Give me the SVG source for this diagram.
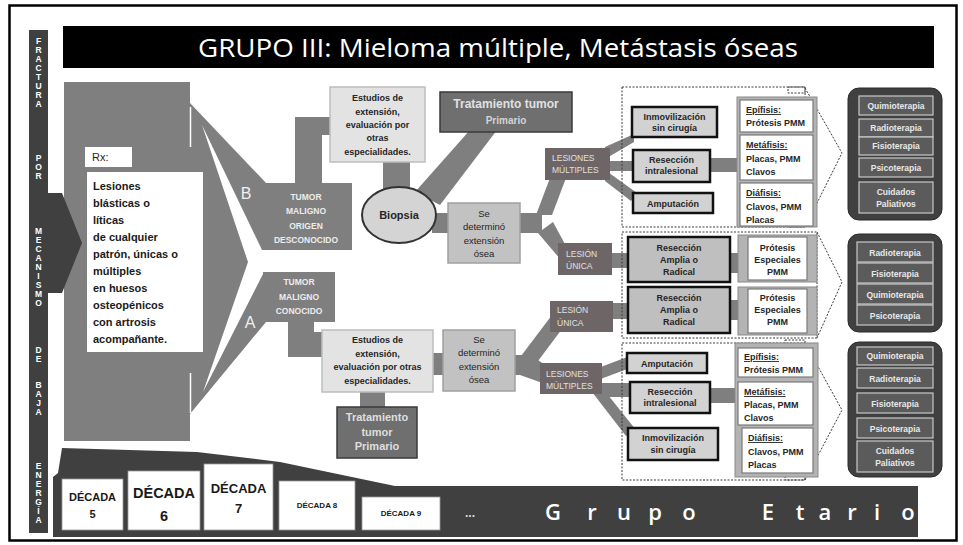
<svg xmlns="http://www.w3.org/2000/svg" width="963" height="545" viewBox="0 0 963 545">
<defs>
<style>
text{font-family:"Liberation Sans",Arial,sans-serif}
.os{font-family:"Open Sans","Liberation Sans",sans-serif}
.g{fill:#7f7f7f}
.dot{fill:none;stroke:#3a3a3a;stroke-width:1;stroke-dasharray:2 1.5}
.est{fill:#e3e3e3;stroke:#bdbdbd;stroke-width:1.5}
.sed{fill:#c2c2c2;stroke:#a0a0a0;stroke-width:1.5}
.les{fill:#6e6666}
.tr{fill:#6f6f6f;stroke:#3a3a3a;stroke-width:1.5}
.bx{fill:#d2d2d2;stroke:#111;stroke-width:2.5}
.bx2{fill:#bfbfbf;stroke:#111;stroke-width:2.5}
.frm{fill:#b3b3b3;stroke:#8a8a8a;stroke-width:1}
.wb{fill:#fff;stroke:#7a7a7a;stroke-width:1.2}
.th{fill:#404040;stroke:#2a2a2a;stroke-width:1}
.ti{fill:#5b5b5b;stroke:#c8c8c8;stroke-width:1.2}
.t9{font-size:9px;font-weight:bold;fill:#262626;text-anchor:middle}
.tr9{font-size:9.5px;fill:#262626;text-anchor:middle}
.tl{font-size:9px;font-weight:bold;fill:#262626}
.tw{font-size:8.5px;font-weight:bold;fill:#e8e8e8;text-anchor:middle}
.tls{font-size:8.5px;fill:#e0e0e0}
.tum{font-size:8.5px;font-weight:bold;fill:#ececec;text-anchor:middle}
.vl{font-size:8.5px;font-weight:bold;fill:#fff;text-anchor:middle}
.rx{font-size:11px;font-weight:bold;fill:#1a1a1a}
.dec{font-weight:bold;fill:#1a1a1a;text-anchor:middle}
</style>
</defs>
<rect width="963" height="545" fill="#fff"/>
<rect x="9.5" y="5.5" width="947" height="535" fill="none" stroke="#000" stroke-width="2.5"/>

<g id="title">
<rect x="63" y="26" width="871" height="42" fill="#000"/>
<text class="os" x="498" y="57" font-size="26" fill="#fff" text-anchor="middle" textLength="600" lengthAdjust="spacingAndGlyphs">GRUPO III: Mieloma múltiple, Metástasis óseas</text>
</g>

<g id="side-bar">
<rect x="29" y="30" width="19" height="503" fill="#404040"/>
<text class="vl" x="38.5 38.5 38.5 38.5 38.5 38.5 38.5 38.5" y="44 53 62 71 80 89 98 107">FRACTURA</text>
<text class="vl" x="38.5 38.5 38.5" y="161 170 179">POR</text>
<text class="vl" x="38.5 38.5 38.5 38.5 38.5 38.5 38.5 38.5 38.5" y="234 243 252 261 270 279 288 297 306">MECANISMO</text>
<text class="vl" x="38.5 38.5" y="353 362">DE</text>
<text class="vl" x="38.5 38.5 38.5 38.5" y="388 397 406 415">BAJA</text>
<text class="vl" x="38.5 38.5 38.5 38.5 38.5 38.5 38.5" y="469 478 487 496 505 514 523">ENERGÍA</text>
</g>

<g id="funnel">
<polygon class="g" points="64,82 190,82 190,103 266,183 266,322 190,414 190,441 64,441"/>
<polygon fill="#fff" points="202,125 262,250 270,250 270,272 264,272 203,392 248,262"/>
<line x1="190.5" y1="107" x2="190.5" y2="147" stroke="#fff" stroke-width="1.5"/>
<line x1="190.5" y1="373" x2="190.5" y2="413" stroke="#fff" stroke-width="1.5"/>
</g>

<g id="connectors">
<rect class="g" x="295" y="117" width="27" height="68"/>
<rect class="g" x="320" y="117" width="12" height="18"/>
<rect class="g" x="383" y="160" width="27" height="30"/>
<polygon class="g" points="470,130 497,130 440,205 415,192"/>
<rect class="g" x="432" y="213" width="18" height="20"/>
<rect class="g" x="518" y="213" width="24" height="20"/>
<polygon class="g" points="536,215 552,215 566,178 550,178"/>
<polygon class="g" points="538,233 553,222 566,246 561,260"/>
<rect class="g" x="610" y="253" width="20" height="15"/>
<polygon class="g" points="605,147 634,134 634,142 605,159"/>
<rect class="g" x="608" y="161" width="27" height="10"/>
<polygon class="g" points="605,170 605,181 631,201 637,193"/>
<rect class="g" x="708" y="158" width="31" height="14"/>
<rect class="g" x="728" y="253" width="12" height="20"/>
<rect class="g" x="610" y="303" width="20" height="16"/>
<rect class="g" x="728" y="300" width="12" height="20"/>
<rect class="g" x="288" y="320" width="26" height="37"/>
<rect class="g" x="312" y="332" width="12" height="25"/>
<rect class="g" x="360" y="390" width="25" height="19"/>
<rect class="g" x="431" y="353" width="14" height="22"/>
<rect class="g" x="513" y="355" width="22" height="20"/>
<polygon class="g" points="518,360 535,365 565,325 552,315"/>
<polygon class="g" points="520,355 535,358 548,367 548,385 520,375"/>
<polygon class="g" points="598,368 630,356 630,368 598,380"/>
<rect class="g" x="598" y="383" width="34" height="14"/>
<polygon class="g" points="592,392 604,390 636,430 626,436"/>
<rect class="g" x="708" y="388" width="29" height="15"/>
</g>

<g id="dotted-groups">
<rect class="dot" x="622" y="87" width="183" height="140"/>
<polyline class="dot" points="805,88 842,153 805,227"/>
<rect class="dot" x="788" y="87" width="17" height="6"/>
<rect class="dot" x="788" y="220" width="17" height="7"/>
<rect class="dot" x="622" y="232" width="195" height="106"/>
<polyline class="dot" points="817,232 842,282 817,338"/>
<rect class="dot" x="622" y="343" width="183" height="137"/>
<polyline class="dot" points="805,343 842,410 805,480"/>
<rect class="dot" x="785" y="340" width="20" height="5"/>
<rect class="dot" x="785" y="473" width="20" height="7"/>
</g>

<g id="arrow-in">
<polygon fill="#404040" points="48,193 62,193 82,243 62,293 48,293"/>
</g>

<g id="rx">
<rect x="85" y="147" width="47" height="20" fill="#fff"/>
<text x="92" y="161" font-size="11" fill="#262626">Rx:</text>
<rect x="87" y="172" width="116" height="180" fill="#fff"/>
<text class="rx" x="93" y="190">Lesiones</text>
<text class="rx" x="93" y="207">blásticas o</text>
<text class="rx" x="93" y="224">líticas</text>
<text class="rx" x="93" y="241">de cualquier</text>
<text class="rx" x="93" y="258">patrón, únicas o</text>
<text class="rx" x="93" y="275">múltiples</text>
<text class="rx" x="93" y="292">en huesos</text>
<text class="rx" x="93" y="309">osteopénicos</text>
<text class="rx" x="93" y="326">con artrosis</text>
<text class="rx" x="93" y="343">acompañante.</text>
</g>

<g id="tumor-b">
<rect class="g" x="265" y="183" width="87" height="67"/>
<text x="246" y="199" font-size="16" fill="#f0f0f0" text-anchor="middle">B</text>
<text class="tum" x="306" y="200">TUMOR</text>
<text class="tum" x="306" y="214">MALIGNO</text>
<text class="tum" x="306" y="229">ORIGEN</text>
<text class="tum" x="306" y="243">DESCONOCIDO</text>
</g>

<g id="tumor-a">
<rect class="g" x="263" y="272" width="72" height="50"/>
<text x="250" y="328" font-size="16" fill="#f0f0f0" text-anchor="middle">A</text>
<text class="tum" x="299" y="285">TUMOR</text>
<text class="tum" x="299" y="300">MALIGNO</text>
<text class="tum" x="299" y="314">CONOCIDO</text>
</g>

<g id="estudios-b">
<rect class="est" x="330" y="87" width="95" height="75"/>
<text class="t9" x="377.5" y="101">Estudios de</text>
<text class="t9" x="377.5" y="115">extensión,</text>
<text class="t9" x="377.5" y="128">evaluación por</text>
<text class="t9" x="377.5" y="141">otras</text>
<text class="t9" x="377.5" y="155">especialidades.</text>
</g>

<g id="biopsia">
<ellipse cx="399" cy="215" rx="37" ry="28" fill="#d4d4d4" stroke="#333" stroke-width="2"/>
<text x="399" y="219" font-size="11" font-weight="bold" fill="#262626" text-anchor="middle">Biopsia</text>
</g>

<g id="tratamiento-b">
<rect class="tr" x="440" y="92" width="132" height="40"/>
<text x="506" y="108" font-size="12" font-weight="bold" fill="#e0e0e0" text-anchor="middle">Tratamiento tumor</text>
<text x="506" y="124" font-size="10" font-weight="bold" fill="#d4d4d4" text-anchor="middle">Primario</text>
</g>

<g id="extension-b">
<rect class="sed" x="448" y="203" width="72" height="60"/>
<text class="tr9" x="484" y="217">Se</text>
<text class="tr9" x="484" y="230">determinó</text>
<text class="tr9" x="484" y="244">extensión</text>
<text class="tr9" x="484" y="257">ósea</text>
</g>

<g id="lesiones-multiples-b">
<rect class="les" x="545" y="148" width="65" height="32"/>
<text class="tls" x="552" y="161">LESIONES</text>
<text class="tls" x="552" y="173">MÚLTIPLES</text>
</g>

<g id="lesion-unica-b">
<rect class="les" x="558" y="243" width="54" height="32"/>
<text class="tls" x="566" y="257">LESIÓN</text>
<text class="tls" x="566" y="269">ÚNICA</text>
</g>

<g id="inmov-b">
<rect class="bx" x="632" y="107" width="85" height="30"/>
<text class="t9" x="674.5" y="120">Inmovilización</text>
<text class="t9" x="674.5" y="131">sin cirugía</text>
</g>
<g id="resec-b">
<rect class="bx" x="633" y="150" width="77" height="32"/>
<text class="t9" x="671.5" y="163">Resección</text>
<text class="t9" x="671.5" y="174">intralesional</text>
</g>
<g id="amput-b">
<rect class="bx" x="633" y="193" width="80" height="20"/>
<text class="t9" x="673" y="207">Amputación</text>
</g>

<g id="zonas-b">
<rect class="frm" x="737" y="97" width="80" height="130"/>
<rect class="wb" x="740" y="100" width="73" height="32"/>
<text class="tl" x="746" y="113" text-decoration="underline">Epífisis:</text>
<text class="tl" x="746" y="126">Prótesis PMM</text>
<rect class="wb" x="740" y="135" width="73" height="45"/>
<text class="tl" x="746" y="148" text-decoration="underline">Metáfisis:</text>
<text class="tl" x="746" y="162">Placas, PMM</text>
<text class="tl" x="746" y="175">Clavos</text>
<rect class="wb" x="740" y="183" width="73" height="43"/>
<text class="tl" x="746" y="196" text-decoration="underline">Diáfisis:</text>
<text class="tl" x="746" y="210">Clavos, PMM</text>
<text class="tl" x="746" y="223">Placas</text>
</g>

<g id="reseccion-amplia-1">
<rect class="bx2" x="628" y="237" width="102" height="45"/>
<text class="t9" x="679" y="251">Resección</text>
<text class="t9" x="679" y="263">Amplia o</text>
<text class="t9" x="679" y="275">Radical</text>
</g>
<g id="protesis-1">
<rect class="frm" x="738" y="235" width="79" height="47"/>
<rect class="wb" x="748" y="237" width="59" height="43"/>
<text class="t9" x="777.5" y="251">Prótesis</text>
<text class="t9" x="777.5" y="263">Especiales</text>
<text class="t9" x="777.5" y="275">PMM</text>
</g>
<g id="reseccion-amplia-2">
<rect class="bx2" x="628" y="287" width="102" height="46"/>
<text class="t9" x="679" y="301">Resección</text>
<text class="t9" x="679" y="313">Amplia o</text>
<text class="t9" x="679" y="325">Radical</text>
</g>
<g id="protesis-2">
<rect class="frm" x="738" y="287" width="79" height="48"/>
<rect class="wb" x="748" y="289" width="59" height="44"/>
<text class="t9" x="777.5" y="301">Prótesis</text>
<text class="t9" x="777.5" y="313">Especiales</text>
<text class="t9" x="777.5" y="325">PMM</text>
</g>

<g id="estudios-a">
<rect class="est" x="322" y="330" width="111" height="62"/>
<text class="t9" x="377.5" y="343">Estudios de</text>
<text class="t9" x="377.5" y="357">extensión,</text>
<text class="t9" x="377.5" y="370">evaluación por otras</text>
<text class="t9" x="377.5" y="384">especialidades.</text>
</g>
<g id="tratamiento-a">
<rect class="tr" x="337" y="407" width="80" height="51"/>
<text x="377" y="421" font-size="11" font-weight="bold" fill="#dedede" text-anchor="middle">Tratamiento</text>
<text x="377" y="436" font-size="11" font-weight="bold" fill="#dedede" text-anchor="middle">tumor</text>
<text x="377" y="450" font-size="11" font-weight="bold" fill="#dedede" text-anchor="middle">Primario</text>
</g>
<g id="extension-a">
<rect class="sed" x="443" y="330" width="72" height="61"/>
<text class="tr9" x="479" y="343">Se</text>
<text class="tr9" x="479" y="356">determinó</text>
<text class="tr9" x="479" y="370">extensión</text>
<text class="tr9" x="479" y="383">ósea</text>
</g>
<g id="lesion-unica-a">
<rect class="les" x="550" y="301" width="63" height="31"/>
<text class="tls" x="557" y="313">LESIÓN</text>
<text class="tls" x="557" y="326">ÚNICA</text>
</g>
<g id="lesiones-multiples-a">
<rect class="les" x="540" y="363" width="62" height="31"/>
<text class="tls" x="546" y="377">LESIONES</text>
<text class="tls" x="546" y="389">MÚLTIPLES</text>
</g>

<g id="amput-a">
<rect class="bx" x="627" y="353" width="80" height="20"/>
<text class="t9" x="667" y="367">Amputación</text>
</g>
<g id="resec-a">
<rect class="bx" x="630" y="382" width="80" height="31"/>
<text class="t9" x="670" y="395">Resección</text>
<text class="t9" x="670" y="406">intralesional</text>
</g>
<g id="inmov-a">
<rect class="bx" x="628" y="428" width="90" height="32"/>
<text class="t9" x="673" y="441">Inmovilización</text>
<text class="t9" x="673" y="453">sin cirugía</text>
</g>

<g id="zonas-a">
<rect class="frm" x="735" y="343" width="83" height="134"/>
<rect class="wb" x="738" y="348" width="75" height="29"/>
<text class="tl" x="744" y="360" text-decoration="underline">Epífisis:</text>
<text class="tl" x="744" y="373">Prótesis PMM</text>
<rect class="wb" x="738" y="382" width="75" height="43"/>
<text class="tl" x="744" y="395" text-decoration="underline">Metáfisis:</text>
<text class="tl" x="744" y="408">Placas, PMM</text>
<text class="tl" x="744" y="421">Clavos</text>
<rect class="wb" x="742" y="428" width="71" height="45"/>
<text class="tl" x="748" y="441" text-decoration="underline">Diáfisis:</text>
<text class="tl" x="748" y="455">Clavos, PMM</text>
<text class="tl" x="748" y="468">Placas</text>
</g>

<g id="terapias-1">
<rect class="th" x="848" y="88" width="94" height="132" rx="11"/>
<rect class="ti" x="859" y="96" width="74" height="19"/>
<text class="tw" x="896" y="109">Quimioterapia</text>
<rect class="ti" x="859" y="119" width="74" height="18"/>
<text class="tw" x="896" y="131">Radioterapia</text>
<rect class="ti" x="859" y="137" width="74" height="18"/>
<text class="tw" x="896" y="149">Fisioterapia</text>
<rect class="ti" x="859" y="158" width="74" height="19"/>
<text class="tw" x="896" y="171">Psicoterapia</text>
<rect class="ti" x="859" y="182" width="74" height="31"/>
<text class="tw" x="896" y="195">Cuidados</text>
<text class="tw" x="896" y="207">Paliativos</text>
</g>
<g id="terapias-2">
<rect class="th" x="848" y="234" width="94" height="98" rx="11"/>
<rect class="ti" x="857" y="242" width="76" height="20"/>
<text class="tw" x="895" y="256">Radioterapia</text>
<rect class="ti" x="857" y="263" width="76" height="20"/>
<text class="tw" x="895" y="277">Fisioterapia</text>
<rect class="ti" x="857" y="284" width="76" height="20"/>
<text class="tw" x="895" y="298">Quimioterapia</text>
<rect class="ti" x="857" y="305" width="76" height="20"/>
<text class="tw" x="895" y="319">Psicoterapia</text>
</g>
<g id="terapias-3">
<rect class="th" x="848" y="342" width="94" height="135" rx="11"/>
<rect class="ti" x="857" y="347" width="76" height="18"/>
<text class="tw" x="895" y="359">Quimioterapia</text>
<rect class="ti" x="857" y="368" width="76" height="20"/>
<text class="tw" x="895" y="382">Radioterapia</text>
<rect class="ti" x="857" y="393" width="76" height="20"/>
<text class="tw" x="895" y="407">Fisioterapia</text>
<rect class="ti" x="857" y="418" width="76" height="20"/>
<text class="tw" x="895" y="432">Psicoterapia</text>
<rect class="ti" x="857" y="441" width="76" height="31"/>
<text class="tw" x="895" y="454">Cuidados</text>
<text class="tw" x="895" y="466">Paliativos</text>
</g>

<g id="grupo-etario">
<polygon fill="#404040" points="53,537 53,477 58,473 62,448 197,452 280,462 395,486 918,486 918,537"/>
<rect x="62" y="479" width="61" height="51" fill="#fff" stroke="#999" stroke-width="0.8"/>
<text class="dec" x="92.5" y="501" font-size="11">DÉCADA</text>
<text class="dec" x="92.5" y="518" font-size="11">5</text>
<rect x="128" y="471" width="72" height="59" fill="#fff" stroke="#999" stroke-width="0.8"/>
<text class="dec" x="164" y="498" font-size="14.5">DÉCADA</text>
<text class="dec" x="164" y="521" font-size="14.5">6</text>
<rect x="204" y="464" width="69" height="66" fill="#fff" stroke="#999" stroke-width="0.8"/>
<text class="dec" x="238.5" y="493" font-size="13">DÉCADA</text>
<text class="dec" x="238.5" y="513" font-size="13">7</text>
<rect x="279" y="481" width="76" height="49" fill="#fff" stroke="#999" stroke-width="0.8"/>
<text class="dec" x="317" y="508" font-size="8">DÉCADA 8</text>
<rect x="362" y="497" width="78" height="33" fill="#fff" stroke="#999" stroke-width="0.8"/>
<text class="dec" x="401" y="516" font-size="8">DÉCADA 9</text>
<text x="470" y="517" font-size="12" font-weight="bold" fill="#dddddd" text-anchor="middle">...</text>
<text class="os" x="553 592 624 655 689 724 768 800 825 852 877 908" y="520" font-size="22" font-weight="600" fill="#fff" text-anchor="middle">Grupo Etario</text>
</g>
</svg>
